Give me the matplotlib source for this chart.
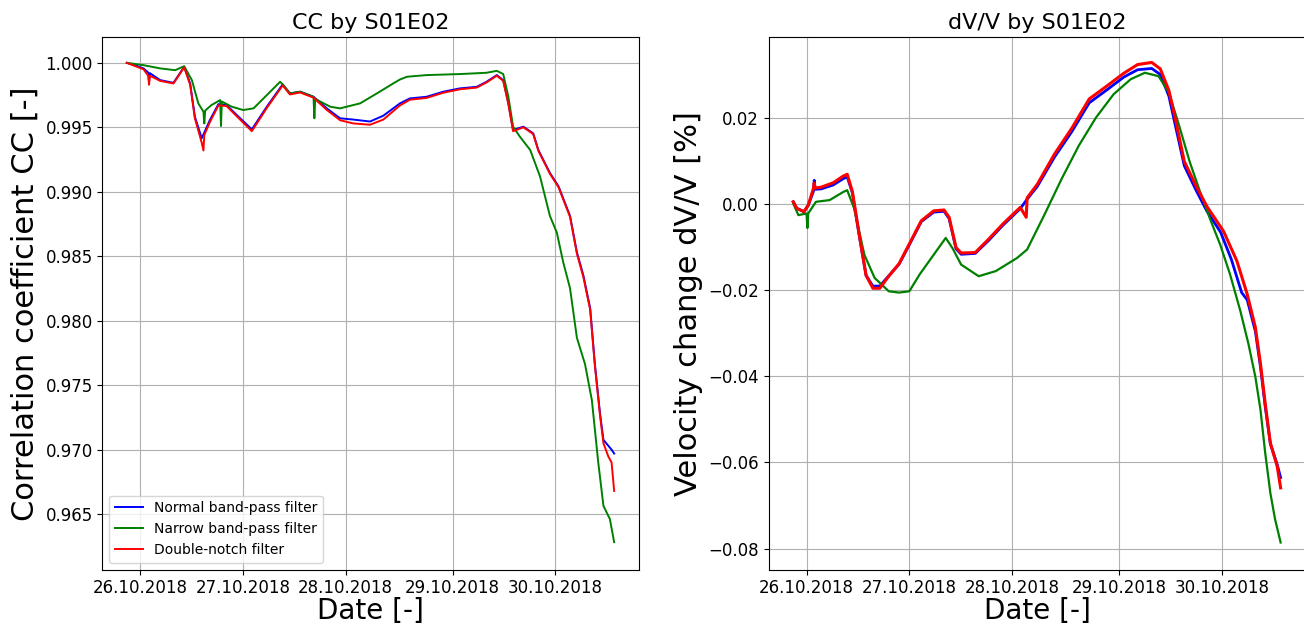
import matplotlib
matplotlib.use("Agg")
import matplotlib.pyplot as plt

# hours since 26.10.2018 00:00 local time (28.10 had 25 h, DST change)
tick_hours = [0, 24, 48, 73, 97]
tick_labels = ["26.10.2018", "27.10.2018", "28.10.2018", "29.10.2018", "30.10.2018"]

# ---- CC by S01E02 ----
cc_normal_h = [-3.1, -1.0, 0.8, 1.9, 2.1, 2.3, 4.7, 7.8, 10.3, 11.7, 12.8, 14.4, 16.3, 18.3, 20.2,
               22.6, 26.1, 29.6, 33.3, 35.0, 37.4, 40.5, 43.6, 46.7, 49.8, 53.7, 56.8, 60.7,
               63.0, 66.9, 70.8, 74.7, 78.6, 80.9, 83.3, 84.8, 86.0, 87.1, 89.5, 91.8, 93.0,
               95.7, 97.7, 100.4, 102.0, 103.5, 105.1, 106.2, 107.4, 108.2, 110.1, 110.7]
cc_normal = [1.0000, 0.9998, 0.99957, 0.99925, 0.99860, 0.99920, 0.99866, 0.99845, 0.99969, 0.9984,
             0.99582, 0.99415, 0.99556, 0.9968, 0.99673, 0.99595, 0.99484, 0.9966, 0.99833,
             0.99763, 0.99776, 0.99737, 0.99647, 0.99570, 0.99560, 0.99545, 0.99590, 0.99686,
             0.99724, 0.99737, 0.99776, 0.99802, 0.99814, 0.99853, 0.99905, 0.99866, 0.99686,
             0.99479, 0.99505, 0.99453, 0.99324, 0.99146, 0.99043, 0.98813, 0.98531, 0.98353,
             0.98097, 0.97663, 0.97280, 0.97076, 0.97000, 0.96970]

cc_narrow_h = [-3.1, 0.8, 4.7, 8.2, 10.3, 12.1, 13.6, 14.8, 15.0, 15.2, 16.7, 18.7, 18.9, 19.1,
               21.4, 24.1, 26.5, 29.6, 32.7, 33.3, 35.0, 37.4, 40.5, 40.7, 40.9, 44.4, 46.7,
               51.4, 55.3, 59.1, 60.7, 62.3, 66.9, 74.7, 80.9, 83.3, 84.8, 86.0, 87.1, 88.7,
               91.1, 93.4, 95.7, 97.3, 98.8, 100.4, 102.0, 103.9, 105.5, 107.0, 108.2, 109.7,
               110.7]
cc_narrow = [1.0000, 0.99982, 0.99957, 0.99943, 0.99974, 0.99866, 0.99686, 0.99621, 0.99530, 0.99630,
             0.99673, 0.99711, 0.99510, 0.99700, 0.9966, 0.99634, 0.99647, 0.9975, 0.99853,
             0.99833, 0.99763, 0.99776, 0.99737, 0.99570, 0.99720, 0.99660, 0.99647, 0.99686,
             0.99763, 0.99840, 0.99871, 0.99892, 0.99905, 0.99913, 0.99923, 0.99938, 0.99913,
             0.99737, 0.99505, 0.99427, 0.99324, 0.99118, 0.98813, 0.98685, 0.98455, 0.98251,
             0.97868, 0.97663, 0.97383, 0.96897, 0.96564, 0.96462, 0.96283]

cc_notch_h = [-3.1, 0.8, 1.9, 2.1, 2.3, 4.7, 7.8, 10.3, 11.7, 12.8, 14.4, 14.8, 15.0, 16.3, 18.3,
              20.2, 22.6, 26.1, 29.6, 33.3, 35.0, 37.4, 40.5, 43.6, 46.7, 49.8, 53.7, 56.8,
              60.7, 63.0, 66.9, 70.8, 74.7, 78.6, 80.9, 83.3, 84.8, 86.0, 87.1, 89.5, 91.8,
              93.0, 95.7, 97.7, 100.4, 102.0, 103.5, 105.1, 106.2, 107.4, 108.2, 109.3,
              110.1, 110.7]
cc_notch = [1.0000, 0.99950, 0.99900, 0.99830, 0.99900, 0.99860, 0.99840, 0.99965, 0.9983, 0.99570,
            0.99380, 0.99320, 0.99440, 0.99540, 0.9967, 0.99665, 0.99585, 0.99470, 0.9965,
            0.99825, 0.99755, 0.99770, 0.99730, 0.99635, 0.99555, 0.99530, 0.99520, 0.99560,
            0.99670, 0.99714, 0.99728, 0.99768, 0.99795, 0.99808, 0.99848, 0.99900, 0.99860,
            0.99680, 0.99470, 0.99500, 0.99448, 0.99318, 0.99140, 0.99036, 0.98805, 0.98520,
            0.98340, 0.98085, 0.97650, 0.97265, 0.97050, 0.96950, 0.96900, 0.96680]

# ---- dV/V by S01E02 [%] ----
dv_normal_h = [-3.1, -2.3, -0.6, 0.4, 1.6, 1.8, 2.0, 3.4, 6.2, 8.6, 9.5, 10.7, 12.3, 13.9, 15.5,
               17.1, 19.2, 21.6, 24.0, 26.8, 29.7, 32.1, 33.3, 34.9, 36.1, 39.4, 42.6, 45.8,
               49.9, 51.5, 53.9, 57.9, 62.0, 66.0, 70.1, 74.1, 77.3, 80.6, 82.6, 84.6, 86.2,
               88.2, 91.1, 93.5, 96.7, 99.2, 101.6, 102.9, 104.8, 106.0, 107.1, 108.3, 109.9,
               110.7]
dv_normal = [0.0006, -0.0009, -0.0017, -0.0002, 0.0030, 0.0056, 0.0035, 0.0036, 0.0045, 0.0060,
             0.0064, 0.0027, -0.0072, -0.0165, -0.0190, -0.0190, -0.0166, -0.0139, -0.0094,
             -0.0040, -0.0018, -0.0016, -0.0033, -0.0103, -0.0116, -0.0114, -0.0083, -0.0049,
             -0.0010, 0.0012, 0.0042, 0.0110, 0.0170, 0.0236, 0.0266, 0.0296, 0.0313, 0.0316,
             0.0302, 0.0252, 0.0180, 0.0090, 0.0030, -0.0016, -0.0065, -0.0128, -0.0205,
             -0.0222, -0.0295, -0.0378, -0.0470, -0.0556, -0.0605, -0.0635]

dv_narrow_h = [-3.1, -1.9, 0.0, 0.2, 0.4, 2.2, 5.4, 8.6, 9.5, 11.1, 13.5, 15.9, 19.2, 21.6, 24.0,
               26.4, 29.7, 32.5, 34.1, 36.1, 40.2, 44.2, 49.1, 51.5, 55.5, 59.6, 63.6, 67.6,
               71.7, 75.7, 79.0, 82.2, 84.6, 87.0, 89.5, 91.9, 94.3, 96.6, 98.9, 101.3, 103.2,
               104.8, 106.0, 107.1, 108.3, 109.4, 110.7]
dv_narrow = [0.0002, -0.0025, -0.0021, -0.0055, -0.0021, 0.0006, 0.0010, 0.0029, 0.0033, -0.0009,
             -0.0117, -0.0171, -0.0202, -0.0205, -0.0202, -0.0163, -0.0117, -0.0078, -0.0102,
             -0.0140, -0.0167, -0.0155, -0.0125, -0.0105, -0.0025, 0.0060, 0.0137, 0.0202,
             0.0256, 0.0291, 0.0306, 0.0298, 0.0260, 0.0183, 0.0098, 0.0029, -0.0036, -0.0094,
             -0.0163, -0.0248, -0.0325, -0.0401, -0.0478, -0.0578, -0.0671, -0.0732, -0.0786]

dv_notch_h = [-3.1, -2.3, -0.6, 0.4, 1.6, 1.8, 2.0, 3.4, 6.2, 8.6, 9.5, 10.7, 12.3, 13.9, 15.5,
              17.1, 19.2, 21.6, 24.0, 26.8, 29.7, 32.1, 33.3, 34.9, 36.1, 39.4, 42.6, 45.8,
              49.9, 51.3, 51.5, 53.9, 57.9, 62.0, 66.0, 70.1, 74.1, 77.3, 80.6, 82.6, 84.6,
              86.2, 88.2, 91.1, 93.5, 97.4, 100.5, 102.9, 104.8, 106.0, 107.1, 108.3, 109.9,
              110.7]
dv_notch = [0.0006, -0.0009, -0.0017, -0.0002, 0.0037, 0.0050, 0.0038, 0.0040, 0.0050, 0.0066,
            0.0070, 0.0030, -0.0070, -0.0165, -0.0195, -0.0195, -0.0167, -0.0138, -0.0092,
            -0.0038, -0.0015, -0.0013, -0.0030, -0.0100, -0.0113, -0.0112, -0.0080, -0.0046,
            -0.0007, -0.0030, 0.0015, 0.0047, 0.0117, 0.0178, 0.0245, 0.0275, 0.0305, 0.0325,
            0.0330, 0.0315, 0.0265, 0.0195, 0.0100, 0.0040, -0.0005, -0.0063, -0.0132, -0.0209,
            -0.0286, -0.0371, -0.0463, -0.0555, -0.0609, -0.0659]

fig = plt.figure(figsize=(13.04, 6.28), dpi=100)
ax1 = fig.add_axes([0.0785, 0.093, 0.4112, 0.848])
# the right panel runs past the figure edge, as in the cropped original
ax2 = fig.add_axes([0.5896, 0.093, 0.4112, 0.848])

ax1.plot(cc_normal_h, cc_normal, color="blue", linewidth=1.4, label="Normal band-pass filter")
ax1.plot(cc_narrow_h, cc_narrow, color="green", linewidth=1.4, label="Narrow band-pass filter")
ax1.plot(cc_notch_h, cc_notch, color="red", linewidth=1.4, label="Double-notch filter")

ax2.plot(dv_normal_h, dv_normal, color="blue", linewidth=2.0)
ax2.plot(dv_narrow_h, dv_narrow, color="green", linewidth=1.6)
ax2.plot(dv_notch_h, dv_notch, color="red", linewidth=2.2)
ax2.spines["right"].set_visible(False)

for ax in (ax1, ax2):
    ax.set_xlim(-8.8, 116.4)
    ax.set_xticks(tick_hours)
    ax.set_xticklabels(tick_labels)
    ax.tick_params(labelsize=12)
    ax.grid(True)
    ax.set_axisbelow(True)
    ax.set_xlabel("Date [-]", fontsize=20, labelpad=0)

ax1.set_ylim(0.9607, 1.0020)
ax1.set_yticks([0.965, 0.970, 0.975, 0.980, 0.985, 0.990, 0.995, 1.000])
ax1.set_title("CC by S01E02", fontsize=16)
ax1.set_ylabel("Correlation coefficient CC [-]", fontsize=22)
ax1.legend(loc="lower left", fontsize=10)

ax2.set_ylim(-0.0849, 0.0389)
ax2.set_yticks([-0.08, -0.06, -0.04, -0.02, 0.00, 0.02])
ax2.set_title("dV/V by S01E02", fontsize=16)
ax2.set_ylabel("Velocity change dV/V [%]", fontsize=22)

fig.savefig("out.png", dpi=100)
